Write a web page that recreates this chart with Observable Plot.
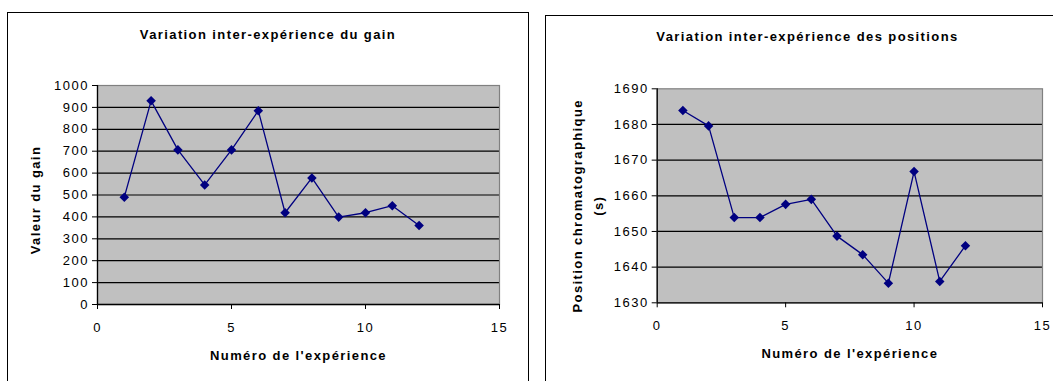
<!DOCTYPE html>
<html>
<head>
<meta charset="utf-8">
<script src="https://cdn.jsdelivr.net/npm/d3@7"></script>
<script src="https://cdn.jsdelivr.net/npm/@observablehq/plot@0.6"></script>
<style>
  html, body { margin: 0; padding: 0; background: #fff; }
  #page { position: relative; width: 1053px; height: 381px; overflow: hidden; background: #fff;
          font-family: "Liberation Sans", Arial, sans-serif; }
  .frame { position: absolute; border: 1.5px solid #000; box-sizing: border-box; }
  .title { position: absolute; text-align: center; font-weight: bold; font-size: 13px;
           line-height: 16px; letter-spacing: 1.4px; color: #000; white-space: nowrap; }
  .chart { position: absolute; }
  .chart svg { letter-spacing: 1.5px; }
  .chart svg g[font-weight="bold"] text { letter-spacing: 1.4px; }
</style>
</head>
<body>
<div id="page">
  <div class="frame" style="left:7px;top:12px;width:522px;height:420px"></div>
  <div class="frame" style="left:545px;top:15px;width:560px;height:420px"></div>
  <div class="title" style="left:7px;width:522px;top:27px">Variation inter-expérience du gain</div>
  <div class="title" style="left:545px;width:525px;top:29px">Variation inter-expérience des positions</div>
  <div class="chart" id="c1" style="left:0;top:50px"></div>
  <div class="chart" id="c2" style="left:545px;top:50px"></div>
</div>
<script>
// Data
const experiences = [1, 2, 3, 4, 5, 6, 7, 8, 9, 10, 11, 12];
const gain = [490, 930, 706, 546, 706, 885, 419, 578, 399, 419, 451, 361];
const positions = [1683.9, 1679.6, 1653.9, 1653.9, 1657.6, 1659.0, 1648.7, 1643.5, 1635.5, 1666.8, 1636.0, 1646.0];

// Ticks and labels
const xTicks = [0, 5, 10, 15];
const gainTicks = [0, 100, 200, 300, 400, 500, 600, 700, 800, 900, 1000];
const positionTicks = [1630, 1640, 1650, 1660, 1670, 1680, 1690];
const xLabel = "Numéro de l'expérience";
const gainLabel = "Valeur du gain";
const positionLabel = "Position chromatographique\n(s)";

const navy = "#000080";
const plotBg = "#c0c0c0";

function makeChart({values, yTicks, yLabel, width, height, margins, yLabelDx, yLabelDy, yLabelLineHeight}) {
  const data = experiences.map((e, i) => ({x: e, y: values[i]}));
  const yMin = yTicks[0], yMax = yTicks[yTicks.length - 1];
  return Plot.plot({
    width, height,
    marginLeft: margins[0], marginRight: margins[1], marginTop: margins[2], marginBottom: margins[3],
    style: {background: "transparent", fontFamily: "'Liberation Sans', Arial, sans-serif", fontSize: "13px", color: "#000", overflow: "visible"},
    x: {domain: [xTicks[0], xTicks[xTicks.length - 1]]},
    y: {domain: [yMin, yMax]},
    marks: [
      Plot.frame({fill: plotBg, stroke: null}),
      Plot.ruleY(yTicks.filter(t => t > yMin && t < yMax), {stroke: "#000", strokeWidth: 1.2}),
      Plot.frame({stroke: "#808080", strokeWidth: 1.2}),
      Plot.axisX({ticks: xTicks, tickFormat: "d", tickSize: 5, tickPadding: 13, label: null, stroke: "#000", fontSize: 13}),
      Plot.axisY({ticks: yTicks, tickFormat: "d", tickSize: 5, tickPadding: 3.5, label: null, stroke: "#000", fontSize: 13}),
      Plot.ruleX([xTicks[0]], {stroke: "#000", strokeWidth: 1.3}),
      Plot.ruleY([yMin], {stroke: "#000", strokeWidth: 1.3}),
      Plot.line(data, {x: "x", y: "y", stroke: navy, strokeWidth: 1.3}),
      Plot.dot(data, {x: "x", y: "y", symbol: "diamond2", r: 4.3, fill: navy, stroke: null}),
      Plot.text([xLabel], {frameAnchor: "bottom", textAnchor: "middle", lineAnchor: "middle", dy: 51, fontWeight: "bold", fontSize: 13, fill: "#000"}),
      Plot.text([yLabel], {frameAnchor: "left", textAnchor: "middle", lineAnchor: "middle", rotate: -90, dx: yLabelDx, dy: yLabelDy, fontWeight: "bold", fontSize: 13, fill: "#000", lineHeight: yLabelLineHeight})
    ]
  });
}

document.getElementById("c1").appendChild(makeChart({
  values: gain, yTicks: gainTicks, yLabel: gainLabel,
  width: 530, height: 331, margins: [97, 31, 35, 77],
  yLabelDx: -62, yLabelDy: 5, yLabelLineHeight: 1
}));
document.getElementById("c2").appendChild(makeChart({
  values: positions, yTicks: positionTicks, yLabel: positionLabel,
  width: 508, height: 331, margins: [111.7, 11, 38.3, 78.7],
  yLabelDx: -71, yLabelDy: 10, yLabelLineHeight: 1.6
}));
</script>
</body>
</html>
